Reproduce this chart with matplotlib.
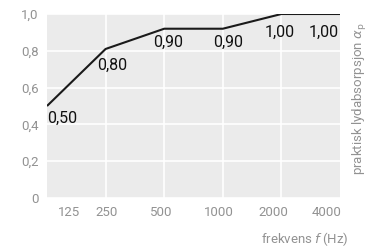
import numpy as np
import matplotlib.pyplot as plt

# data
freqs = ['125', '250', '500', '1000', '2000', '4000']
alpha = [0.50, 0.81, 0.92, 0.92, 1.00, 1.00]
alpha_labels = ['0,50', '0,80', '0,90', '0,90', '1,00', '1,00']
yticks = [0, 0.2, 0.4, 0.6, 0.8, 1.0]
ytick_labels = ['0', '0,2', '0,4', '0,6', '0,8', '1,0']

plt.rcParams['font.family'] = ['Roboto', 'DejaVu Sans']
grey = '#929292'

fig = plt.figure(figsize=(3.82, 2.47), dpi=100)
ax = fig.add_axes([47 / 382, 1 - 198 / 247, 293 / 382, 184 / 247])
ax.set_facecolor('#ebebeb')

x = np.arange(len(freqs))
ax.plot(x, alpha, color='#1a1a1a', lw=1.5, solid_capstyle='butt', zorder=3)

# value labels, offsets in points
offs = [(0, -9, 'left'), (-6, -11.5, 'left'), (3, -10, 'center'),
        (4, -10, 'center'), (-1.5, -13, 'center'), (-12, -13, 'center')]
for xi, yi, s, (dx, dy, ha) in zip(x, alpha, alpha_labels, offs):
    ax.annotate(s, (xi, yi), xytext=(dx, dy), textcoords='offset points',
                ha=ha, va='center', fontsize=11.5, color='#111111')

ax.set_xlim(0, len(freqs) - 1)
ax.set_ylim(0, 1.0)

# vertical grid on inner frequency positions, horizontal on y ticks
ax.set_xticks(x[1:-1], minor=True)
ax.grid(axis='x', which='minor', color='white', lw=1.2)
ax.grid(axis='y', which='major', color='white', lw=1.2)
ax.set_axisbelow(True)
ax.tick_params(which='minor', length=0)

# tick labels (slightly shifted from grid, as in the reference)
label_pos = x + np.array([0.37, 0.02, -0.05, -0.07, -0.14, -0.22])
ax.set_xticks(label_pos, freqs)
ax.set_yticks(yticks, ytick_labels)
ax.tick_params(which='major', length=0, labelsize=9.5, labelcolor=grey, pad=6)

for sp in ax.spines.values():
    sp.set_visible(False)

fig.text(348 / 382, 1 - 239 / 247, 'frekvens $f$\u2009(Hz)', ha='right', va='center',
         fontsize=9.5, color=grey)
fig.text(360 / 382, 1 - 99 / 247, 'praktisk lydabsorpsjon $\\alpha_\\mathrm{p}$',
         rotation=90, ha='center', va='center', fontsize=9.5, color=grey)

fig.savefig('out.png', dpi=100)
